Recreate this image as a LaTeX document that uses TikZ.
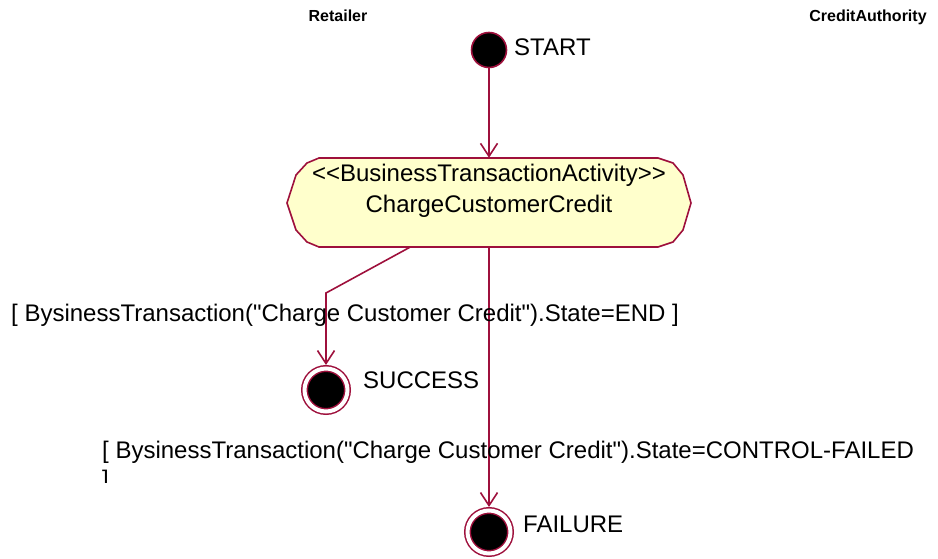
\documentclass[tikz,border=0pt]{standalone}
\usepackage{fontspec}
\setmainfont{Liberation Sans}[Ligatures=TeXOff]
\usetikzlibrary{arrows.meta}
\usetikzlibrary{positioning}
\definecolor{edgered}{RGB}{158,16,60}
\definecolor{actfill}{RGB}{255,255,204}
\def\bigfont{\fontsize{24}{29}\selectfont}
\def\lanefont{\fontsize{16}{19}\selectfont\bfseries}
\def\stereo#1{<\kern0pt<#1>\kern0pt>}

\begin{document}
\begin{tikzpicture}[x=1pt,y=-1pt,>={Straight Barb[length=13pt,width=17pt]},
  flow/.style={->,draw=edgered,line width=1.6pt},
  lbl/.style={font=\bigfont,inner sep=0pt,anchor=base west},
  lane/.style={font=\lanefont,inner sep=0pt,anchor=base},
  initial/.style={circle,fill=black,draw=edgered,line width=1.6pt,minimum size=35pt,inner sep=0pt},
  final/.style={circle,fill=black,draw=edgered,line width=1.5pt,double=white,double distance=4pt,
    minimum size=43pt,inner sep=0pt,outer sep=3.5pt},
  actshape/.style={draw=edgered,fill=actfill,line width=1.6pt}]

\useasboundingbox (0,0) rectangle (938,559);

\node[lane] (retailer) at (338,22) {Retailer};
\node[lane] (authority) at (868,22) {CreditAuthority};

\node[initial] (start) at (489,50) {};
\node[lbl] (startlbl) at (514,56) {START};

% activity
\draw[actshape] (319,158) -- (658,158) -- (673,163) -- (683,175) -- (691,203) -- (683,230)
  -- (673,242) -- (658,247) -- (319,247) -- (307,242) -- (296,230) -- (287,203)
  -- (296,175) -- (307,163) -- cycle;
\node[minimum width=404pt,minimum height=89pt,inner sep=0pt] (act) at (489,202.5) {};
\node[lbl,anchor=base] (actkind) at (489,182) {\stereo{BusinessTransactionActivity}};
\node[lbl,anchor=base] (actname) at (489,212.5) {ChargeCustomerCredit};

\node[final] (success) at (326,390) {};
\node[lbl] (successlbl) at (363,388) {SUCCESS};

\node[final] (failure) at (489,532) {};
\node[lbl] (failurelbl) at (523,532) {FAILURE};

\coordinate (bend) at (326,293);
\draw[flow] (start) -- (act);
\draw[flow] ([xshift=-79pt]act.south) -- (bend) -- (success);
\draw[flow] (act.south) -- (failure);

\node[lbl] (endlbl) at (11,321) {[ BysinessTransaction("Charge Customer Credit").State=END ]};
\begin{scope}
  \clip (0,0) rectangle (938,482);
  \node[lbl,anchor=north west,align=left,font=\fontsize{24}{29}\selectfont] (faillbl) at (102,441)
    {[ BysinessTransaction("Charge Customer Credit").State=CONTROL-FAILED\\]};
\end{scope}

\end{tikzpicture}
\end{document}
